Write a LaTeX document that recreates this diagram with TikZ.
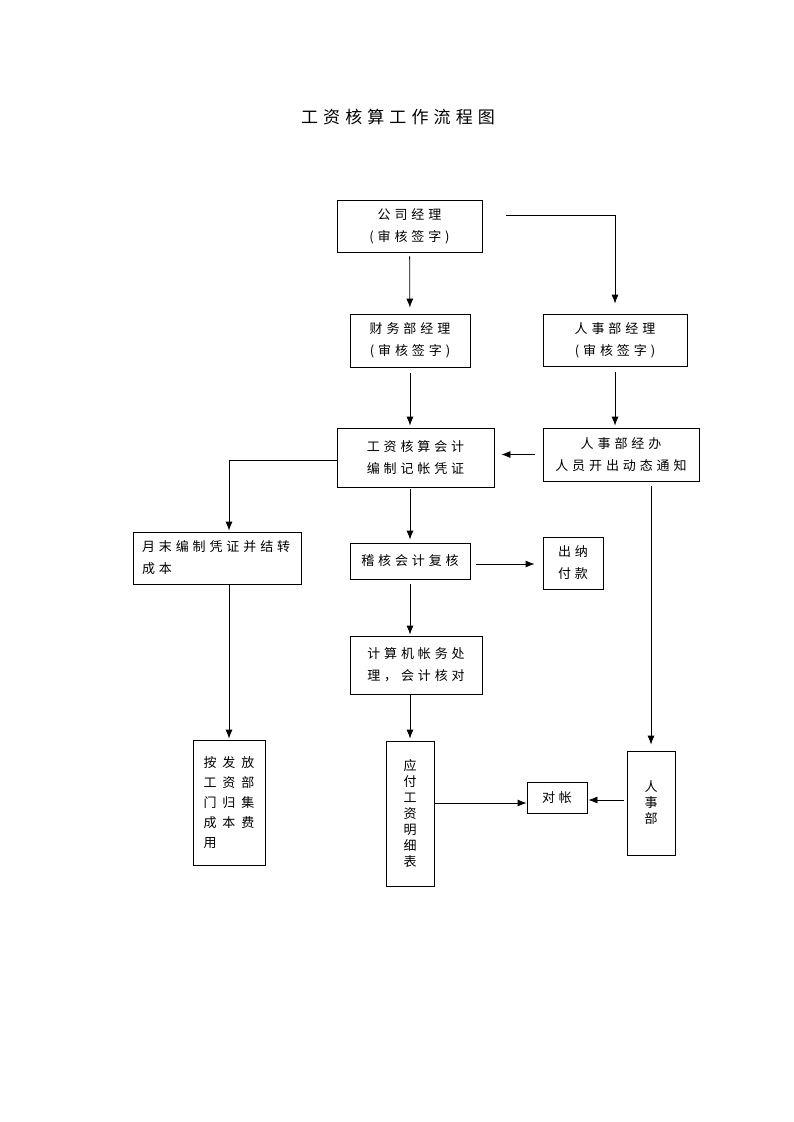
\documentclass[tikz,border=0pt]{standalone}
\usepackage{fontspec}
\newfontfamily\cjk[LetterSpace=30]{Noto Sans CJK SC}
\newfontfamily\cjkwide[LetterSpace=45]{Noto Sans CJK SC}
\usetikzlibrary{arrows.meta}
\usetikzlibrary{positioning}

\tikzset{
  box/.style={draw, line width=0.8pt, inner sep=0pt, align=center,
    font=\cjk\fontsize{13}{22}\selectfont},
  flow/.style={draw, line width=0.8pt, -{Latex[length=9pt,width=7pt]},
    shorten <=4pt, shorten >=3pt},
}

\begin{document}
\begin{tikzpicture}[x=1pt,y=-1pt]
\useasboundingbox (0,0) rectangle (793,1122);

% title
\node [font=\cjk\fontsize{17}{20}\selectfont] (title) at (398,117) {工资核算工作流程图};

% boxes
\node [box, minimum width=145pt, minimum height=52pt] (gsjl) at (409.5,226) {公司经理\\(审核签字)};
\node [box, minimum width=120pt, minimum height=53pt] (cwjl) at (410,340.5) {财务部经理\\(审核签字)};
\node [box, minimum width=144pt, minimum height=52pt] (rsjl) at (615,340) {人事部经理\\(审核签字)};
\node [box, minimum width=157pt, minimum height=59pt] (gzkj) at (415.5,457.5) {工资核算会计\\编制记帐凭证};
\node [box, minimum width=156pt, minimum height=53pt] (rsjb) at (621,454.5) {人事部经办\\人员开出动态通知};
\node [box, minimum width=168pt, minimum height=52pt, align=left, text width=150pt] (ymbz) at (217,558) {月末编制凭证并结转\\成本};
\node [box, minimum width=120pt, minimum height=36pt] (jhkj) at (410,561) {稽核会计复核};
\node [box, minimum width=60pt, minimum height=52pt] (cnfk) at (573,563) {出纳\\付款};
\node [box, minimum width=132pt, minimum height=58pt] (jsj) at (416,665) {计算机帐务处\\理，会计核对};
\node [box, minimum width=72pt, minimum height=125pt, align=left,
  font=\cjkwide\fontsize{13}{20}\selectfont] (afgz) at (229,802.5) {按发放\\工资部\\门归集\\成本费\\用};
\node [box, minimum width=48pt, minimum height=145pt,
  font=\cjk\fontsize{13}{16}\selectfont] (yfgz) at (410,813.5) {应\\付\\工\\资\\明\\细\\表};
\node [box, minimum width=60pt, minimum height=31pt] (dz) at (557,797.5) {对帐};
\node [box, minimum width=48pt, minimum height=104pt,
  font=\cjk\fontsize{13}{16}\selectfont] (rsb) at (651,803) {人\\事\\部};

% connectors
\draw [flow, shorten >=6pt] (gsjl) -- (cwjl);
\draw [flow, shorten <=24pt, shorten >=10pt] (gsjl.east |- 0,215) -| (rsjl.north);
\draw [flow, shorten <=6pt, shorten >=2pt] (cwjl.south) -- (cwjl.south |- gzkj.north);
\draw [flow, shorten <=6pt, shorten >=2pt] (rsjl.south) -- (rsjl.south |- rsjb.north);
\draw [flow, shorten <=8pt, shorten >=7pt] (rsjb.west) -- (rsjb.west -| gzkj.east);
\draw [flow, shorten <=0pt, shorten >=1pt] ([yshift=-3pt]gzkj.west) -| ([xshift=12pt]ymbz.north);
\draw [flow, shorten <=2pt] (cwjl.south |- gzkj.south) -- (jhkj.north);
\draw [flow, shorten <=6pt, shorten >=8pt] ([yshift=-3pt]jhkj.east) -- ([yshift=-3pt]jhkj.east -| cnfk.west);
\draw [flow, shorten <=5pt, shorten >=1pt] (jhkj.south) -- (jhkj.south |- jsj.north);
\draw [flow, shorten <=0pt, shorten >=2pt] (jhkj.south |- jsj.south) -- (yfgz.north);
\draw [flow, shorten <=0pt, shorten >=1pt] ([xshift=12pt]ymbz.south) -- (afgz.north);
\draw [flow, shorten <=5pt, shorten >=6pt] (rsjb.south -| rsb.north) -- (rsb.north);
\draw [flow, shorten <=0pt, shorten >=0pt] ([yshift=-5.5pt]dz.west -| yfgz.east) -- ([yshift=-5.5pt]dz.west);
\draw [flow, shorten <=3pt, shorten >=1pt] ([yshift=-2.5pt]dz.east -| rsb.west) -- ([yshift=-2.5pt]dz.east);
\end{tikzpicture}
\end{document}
